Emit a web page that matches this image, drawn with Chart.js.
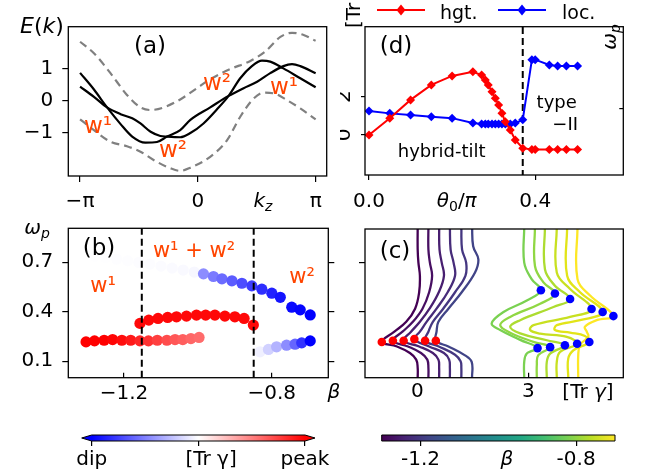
<!DOCTYPE html>
<html>
<head>
<meta charset="utf-8">
<script src="https://cdn.jsdelivr.net/npm/chart.js@4/dist/chart.umd.min.js"></script>
<style>
  body { margin: 0; background: #fff; }
  #wrap { position: relative; width: 651px; height: 475px; overflow: hidden; background: #fff; }
  canvas { position: absolute; }
</style>
</head>
<body>
<div id="wrap">
  <canvas id="cA" width="340" height="215" style="left:0px;top:0px;width:340px;height:215px"></canvas>
  <canvas id="cD" width="311" height="215" style="left:340px;top:0px;width:311px;height:215px"></canvas>
  <canvas id="cB" width="340" height="210" style="left:0px;top:200px;width:340px;height:210px"></canvas>
  <canvas id="cC" width="311" height="210" style="left:340px;top:200px;width:311px;height:210px"></canvas>
  <canvas id="cE" width="280" height="60" style="left:60px;top:415px;width:280px;height:60px"></canvas>
  <canvas id="cF" width="291" height="60" style="left:360px;top:415px;width:291px;height:60px"></canvas>
</div>
<script>
// ---------- data: panel (a), bands E(k) ----------
const aTickK = [-Math.PI, 0, Math.PI];
const aTickKLabels = ['−π', '0', 'π'];
const aTickE = [-1, 0, 1];
const aTickELabels = ['−1', '0', '1'];

const band1K = [-3.14, -2.77, -2.42, -2.06, -1.75, -1.40, -1.09, -0.82, -0.47, -0.20, 0.33, 0.82, 1.22, 1.58, 1.93, 2.28, 2.51, 2.73, 3.14];
const band1E = [0.88, 0.36, -0.20, -0.72, -1.11, -1.30, -1.28, -1.11, -0.91, -0.59, -0.20, 0.16, 0.40, 0.60, 0.87, 1.09, 1.15, 1.09, 0.87];
const band2K = [-3.14, -2.77, -2.42, -2.06, -1.75, -1.53, -1.26, -1.00, -0.82, -0.47, -0.20, 0.15, 0.51, 0.82, 1.13, 1.44, 1.71, 1.93, 2.28, 2.73, 3.14];
const band2E = [0.45, 0.13, -0.20, -0.41, -0.54, -0.70, -0.96, -1.09, -1.11, -1.13, -1.00, -0.70, -0.26, 0.16, 0.71, 1.09, 1.26, 1.23, 1.02, 0.71, 0.43];
const upperK = [-3.14, -2.77, -2.33, -1.89, -1.53, -1.26, -0.91, -0.47, 0.00, 0.33, 0.87, 1.40, 1.80, 2.20, 2.51, 2.82, 3.14];
const upperE = [1.85, 1.49, 0.87, 0.19, -0.20, -0.28, -0.20, 0.05, 0.42, 0.68, 1.00, 1.25, 1.55, 2.00, 2.13, 2.06, 1.88];
const lowerK = [-3.14, -2.77, -2.33, -1.89, -1.53, -1.18, -0.73, -0.47, -0.20, 0.33, 0.78, 1.13, 1.49, 1.75, 2.02, 2.37, 2.73, 3.14];
const lowerE = [-0.57, -0.91, -1.27, -1.41, -1.58, -1.84, -2.10, -2.18, -2.08, -1.74, -1.22, -0.49, 0.08, 0.26, 0.24, 0.03, -0.23, -0.57];

// ---------- data: panel (b), omega_p vs beta ----------
const bTickBeta = [-1.2, -0.8];
const bTickBetaLabels = ['−1.2', '−0.8'];
const wTicks = [0.1, 0.4, 0.7];
const wTickLabels = ['0.1', '0.4', '0.7'];
const bSplit = [-1.152, -0.849];

const lowRedBeta = [-1.303, -1.280, -1.254, -1.231, -1.206, -1.182, -1.157, -1.134, -1.110, -1.084, -1.062, -1.041, -1.019, -0.997];
const lowRedW = [0.217, 0.223, 0.227, 0.231, 0.227, 0.227, 0.223, 0.223, 0.227, 0.227, 0.231, 0.231, 0.237, 0.244];
const lowRedTr = [1.0, 1.0, 1.0, 0.98, 0.95, 0.9, 0.85, 0.8, 0.75, 0.7, 0.66, 0.63, 0.6, 0.58];
const upRedBeta = [-1.157, -1.133, -1.108, -1.082, -1.058, -1.031, -1.004, -0.979, -0.954, -0.927, -0.900, -0.875, -0.850];
const upRedW = [0.329, 0.349, 0.359, 0.365, 0.369, 0.373, 0.379, 0.379, 0.379, 0.373, 0.369, 0.359, 0.319];
const upRedTr = [0.97, 0.97, 0.97, 0.97, 0.97, 0.97, 0.97, 0.97, 0.97, 0.97, 0.97, 0.97, 0.97];
const faintBeta = [-1.28, -1.25, -1.22, -1.19, -1.16, -1.13, -1.10, -1.07, -1.04, -1.01];
const faintW = [0.735, 0.727, 0.718, 0.708, 0.698, 0.688, 0.676, 0.664, 0.652, 0.640];
const faintTr = [-0.005, -0.005, -0.008, -0.008, -0.01, -0.012, -0.015, -0.018, -0.022, -0.03];
const upBlueBeta = [-0.985, -0.958, -0.935, -0.908, -0.881, -0.854, -0.827, -0.800, -0.777, -0.746, -0.723, -0.696];
const upBlueW = [0.629, 0.613, 0.599, 0.587, 0.572, 0.556, 0.536, 0.512, 0.487, 0.427, 0.411, 0.380];
const upBlueTr = [-0.45, -0.52, -0.58, -0.64, -0.7, -0.76, -0.82, -0.87, -0.92, -0.96, -0.98, -1.0];
const lowBlueBeta = [-0.832, -0.809, -0.787, -0.760, -0.737, -0.719, -0.696];
const lowBlueW = [0.157, 0.171, 0.187, 0.197, 0.203, 0.211, 0.223];
const lowBlueTr = [-0.06, -0.18, -0.3, -0.45, -0.6, -0.8, -1.0];

// ---------- data: panel (c), [Tr gamma] curves, pairs [omega, Tr] ----------
const cTickTr = [0, 3];
const cTickTrLabels = ['0', '3'];
const purple1 = [[0.92, 0.01], [0.78, 0.01], [0.70, 0.03], [0.62, 0.07], [0.52, 0.05], [0.42, -0.06], [0.34, -0.30], [0.28, -0.62], [0.217, -0.96], [0.19, -0.55], [0.15, -0.20], [0.11, -0.03], [0.06, 0.01], [0.0, 0.01]];
const purple2 = [[0.92, 0.30], [0.78, 0.30], [0.70, 0.34], [0.62, 0.40], [0.52, 0.32], [0.42, 0.14], [0.34, -0.12], [0.28, -0.40], [0.225, -0.66], [0.19, -0.25], [0.15, 0.10], [0.11, 0.27], [0.06, 0.30], [0.0, 0.30]];
const purple3 = [[0.92, 0.59], [0.78, 0.60], [0.70, 0.66], [0.62, 0.72], [0.52, 0.58], [0.42, 0.33], [0.34, 0.07], [0.28, -0.17], [0.225, -0.37], [0.19, 0.05], [0.15, 0.42], [0.11, 0.57], [0.06, 0.59], [0.0, 0.59]];
const purple4 = [[0.92, 0.88], [0.78, 0.90], [0.70, 0.98], [0.62, 1.02], [0.52, 0.82], [0.42, 0.52], [0.34, 0.25], [0.28, 0.07], [0.235, -0.08], [0.19, 0.32], [0.15, 0.72], [0.11, 0.86], [0.06, 0.88], [0.0, 0.88]];
const purple5 = [[0.92, 1.19], [0.78, 1.21], [0.70, 1.32], [0.62, 1.30], [0.52, 1.02], [0.42, 0.70], [0.34, 0.42], [0.28, 0.30], [0.225, 0.21], [0.19, 0.58], [0.14, 1.02], [0.10, 1.17], [0.06, 1.19], [0.0, 1.19]];
const purple6 = [[0.92, 1.48], [0.80, 1.51], [0.72, 1.65], [0.64, 1.56], [0.52, 1.20], [0.42, 0.84], [0.34, 0.57], [0.28, 0.52], [0.225, 0.50], [0.19, 0.84], [0.136, 1.29], [0.096, 1.47], [0.0, 1.48]];
const green1 = [[0.92, 2.89], [0.70, 2.89], [0.60, 3.09], [0.532, 3.34], [0.47, 2.96], [0.40, 2.33], [0.33, 2.01], [0.29, 2.24], [0.23, 2.78], [0.180, 3.25], [0.147, 2.96], [0.096, 2.89], [0.0, 2.89]];
const green2 = [[0.92, 3.18], [0.68, 3.18], [0.58, 3.41], [0.512, 3.72], [0.45, 3.32], [0.37, 2.51], [0.32, 2.24], [0.274, 2.51], [0.218, 3.14], [0.186, 3.59], [0.137, 3.27], [0.076, 3.23], [0.0, 3.23]];
const green3 = [[0.92, 3.45], [0.66, 3.45], [0.56, 3.72], [0.479, 4.13], [0.43, 3.68], [0.35, 2.78], [0.31, 2.51], [0.27, 2.78], [0.228, 3.50], [0.197, 3.99], [0.147, 3.59], [0.096, 3.50], [0.0, 3.50]];
const green4 = [[0.92, 3.77], [0.64, 3.77], [0.54, 4.13], [0.418, 4.71], [0.37, 4.13], [0.32, 3.14], [0.29, 3.05], [0.268, 3.32], [0.248, 4.04], [0.207, 4.32], [0.157, 3.86], [0.096, 3.77], [0.0, 3.77]];
const green5 = [[0.92, 4.05], [0.62, 4.05], [0.52, 4.40], [0.400, 5.01], [0.35, 4.40], [0.32, 3.77], [0.29, 3.72], [0.274, 4.13], [0.254, 4.53], [0.217, 4.65], [0.167, 4.22], [0.116, 4.08], [0.0, 4.08]];
const green6 = [[0.92, 4.33], [0.60, 4.33], [0.50, 4.67], [0.375, 5.30], [0.35, 4.85], [0.31, 4.53], [0.28, 4.58], [0.25, 4.62], [0.20, 4.40], [0.137, 4.35], [0.0, 4.35]];
const peakTr = [-0.96, -0.66, -0.37, -0.08, 0.21, 0.50];
const peakW = [0.217, 0.225, 0.225, 0.235, 0.225, 0.225];
const dipUpTr = [3.34, 3.72, 4.13, 4.71, 5.01, 5.30];
const dipUpW = [0.532, 0.512, 0.479, 0.418, 0.400, 0.375];
const dipLowTr = [3.25, 3.59, 3.99, 4.32, 4.65];
const dipLowW = [0.180, 0.186, 0.197, 0.207, 0.217];

// ---------- data: panel (d), vs theta0/pi ----------
const dTickTheta = [0.0, 0.4];
const dTickThetaLabels = ['0.0', '0.4'];
const dTickTr = [0, 2];
const dTickTrLabels = ['0', '2'];
const dTickW = [0.4];
const dTickWLabels = ['0.4'];
const dTypeII = 0.37;
const theta = [0, 0.05, 0.1, 0.15, 0.2, 0.25, 0.271, 0.28, 0.287, 0.296, 0.304, 0.312, 0.32, 0.328, 0.34, 0.352, 0.37, 0.392, 0.40, 0.434, 0.454, 0.475, 0.502];
const hgt = [0, 0.87, 1.83, 2.61, 3.08, 3.30, 3.13, 2.87, 2.61, 2.26, 1.91, 1.56, 1.13, 0.69, 0.26, -0.26, -0.69, -0.76, -0.76, -0.76, -0.76, -0.76, -0.76];
const loc = [0.388, 0.374, 0.364, 0.354, 0.345, 0.315, 0.31, 0.31, 0.31, 0.31, 0.31, 0.31, 0.31, 0.31, 0.31, 0.315, 0.335, 0.70, 0.70, 0.668, 0.662, 0.662, 0.662];

// ---------- colorbars ----------
const cbLeftTicks = [0, 0.5, 1];
const cbLeftLabels = ['dip', '    [Tr γ]', 'peak'];
const cbRightTicks = [-1.2, -0.8];
const cbRightLabels = ['-1.2', '-0.8'];

// ---------- helpers ----------
Chart.defaults.font.family = '"DejaVu Sans"';
Chart.defaults.color = '#000';

const FONT = '"DejaVu Sans"';
const ORANGE = '#ff4500';
const purples = ['#440154', '#470f62', '#481f70', '#472c7a', '#453781', '#414487'];
const greens = ['#7ad151', '#90d743', '#addc30', '#c8e020', '#e2e418', '#fde725'];
const viridis = ['#440154', '#482475', '#414487', '#355f8d', '#2a788e', '#21918c', '#22a884', '#44bf70', '#7ad151', '#bddf26', '#fde725'];

function bwr(v) {
  if (v < 0) {
    const c = Math.round(255 * (1 + v));
    return 'rgb(' + c + ',' + c + ',255)';
  }
  const c = Math.round(255 * (1 - v));
  return 'rgb(255,' + c + ',' + c + ')';
}
function zipXY(xs, ys) { return xs.map((x, i) => ({x: x, y: ys[i]})); }
function curve(pairs) { return pairs.map(p => ({x: p[1], y: p[0]})); }

function ticksAt(vals) { return s => { s.ticks = vals.map(v => ({value: v})); }; }

function axis(o) {
  // o: pos, min, max, vals, labels, size, tl, pad, rot, cross
  const horiz = o.pos === 'bottom';
  return {
    type: 'linear', position: o.pos, min: o.min, max: o.max,
    afterBuildTicks: ticksAt(o.vals),
    afterFit: s => { if (horiz) s.height = o.size; else s.width = o.size; },
    grid: {drawOnChartArea: false, drawTicks: true, tickLength: o.tl, color: '#000', lineWidth: 1.2},
    border: {display: false},
    ticks: {
      display: !!o.labels, padding: o.pad, autoSkip: false,
      minRotation: o.rot || 0, maxRotation: o.rot || 0,
      crossAlign: o.cross || 'near',
      font: {size: o.fs || 20, lineHeight: 1.2}, color: '#000',
      callback: (v, i) => o.labels ? o.labels[i] : ''
    }
  };
}

// notes in page coordinates, [text, style]: style 'i' italic, 's' subscript
const notes = {
  cA: [
    {x: 42, y: 33, size: 22, parts: [['E', 'i'], ['('], ['k', 'i'], [')']]},
    {x: 150, y: 53, size: 23, parts: [['(a)']]},
    {x: 217, y: 90, size: 23, color: ORANGE, parts: [['w²']]},
    {x: 284, y: 94, size: 23, color: ORANGE, parts: [['w¹']]},
    {x: 98, y: 132.7, size: 23, color: ORANGE, parts: [['w¹']]},
    {x: 173, y: 156.7, size: 23, color: ORANGE, parts: [['w²']]},
    {x: 263, y: 207, size: 20, parts: [['k', 'i'], ['z', 'is']]}
  ],
  cB: [
    {x: 37, y: 234, size: 20, parts: [['ω', 'i'], ['p', 'is']]},
    {x: 99, y: 255, size: 23, parts: [['(b)']]},
    {x: 194, y: 256.7, size: 21, color: ORANGE, parts: [['w¹ + w²']]},
    {x: 103, y: 291.7, size: 21, color: ORANGE, parts: [['w¹']]},
    {x: 302, y: 283.3, size: 21, color: ORANGE, parts: [['w²']]},
    {x: 334, y: 398, size: 20, parts: [['β', 'i']]}
  ],
  cC: [
    {x: 395, y: 258.3, size: 23, parts: [['(c)']]},
    {x: 588, y: 398, size: 20, parts: [['[Tr '], ['γ', 'i'], [']']]}
  ],
  cD: [
    {x: 396, y: 53.3, size: 23, parts: [['(d)']]},
    {x: 441.7, y: 156.7, size: 18, parts: [['hybrid-tilt']]},
    {x: 556.7, y: 108.3, size: 18, parts: [['type']]},
    {x: 578, y: 130, size: 18, align: 'right', parts: [['−II']]},
    {x: 616, y: 37, size: 20, rot: -Math.PI / 2, parts: [['ω', 'i'], ['p', 'is']]},
    {x: 360, y: 28, size: 20, rot: -Math.PI / 2, align: 'left', parts: [['[Tr '], ['γ', 'i'], [']']]},
    {x: 456.7, y: 207, size: 20, parts: [['θ', 'i'], ['0', 's'], ['/'], ['π', 'i']]}
  ],
  cF: [
    {x: 507, y: 465, size: 20, parts: [['β', 'i']]}
  ]
};

function drawNote(ctx, n, ox, oy) {
  const sz = n.size || 20;
  const segs = n.parts.map(p => {
    const st = p[1] || '';
    const it = st.indexOf('i') >= 0;
    const sub = st.indexOf('s') >= 0;
    const fs = sub ? sz * 0.7 : sz;
    return {t: p[0], font: (it ? 'italic ' : '') + fs + 'px ' + FONT, dy: sub ? sz * 0.22 : 0};
  });
  ctx.save();
  let w = 0;
  segs.forEach(s => { ctx.font = s.font; s.w = ctx.measureText(s.t).width; w += s.w; });
  ctx.translate(n.x - ox, n.y - oy);
  if (n.rot) ctx.rotate(n.rot);
  let x0 = n.align === 'left' ? 0 : (n.align === 'right' ? -w : -w / 2);
  ctx.fillStyle = n.color || '#000';
  ctx.textBaseline = 'alphabetic';
  ctx.textAlign = 'left';
  segs.forEach(s => { ctx.font = s.font; ctx.fillText(s.t, x0, s.dy); x0 += s.w; });
  ctx.restore();
}

const framePlugin = {
  id: 'frame',
  afterDraw(chart) {
    const id = chart.canvas.id;
    const ox = chart.canvas.offsetLeft, oy = chart.canvas.offsetTop;
    const ctx = chart.ctx;
    if (id !== 'cE' && id !== 'cF') {
      const a = chart.chartArea;
      ctx.save();
      ctx.strokeStyle = '#000';
      ctx.lineWidth = 1.3;
      ctx.strokeRect(a.left, a.top, a.right - a.left, a.bottom - a.top);
      ctx.restore();
    }
    (notes[id] || []).forEach(n => drawNote(ctx, n, ox, oy));
  }
};

// legend for (d): line + diamond marker, like matplotlib
const legendSpots = [{x1: 377, x2: 425, y: 10, tx: 440, ty: 18.5}, {x1: 498, x2: 546, y: 10, tx: 562, ty: 18.5}];
const legendPlugin = {
  id: 'mplLegend',
  afterDraw(chart) {
    if (chart.canvas.id !== 'cD') return;
    const ctx = chart.ctx, ox = chart.canvas.offsetLeft;
    [0, 1].forEach(i => {
      const ds = chart.data.datasets[i], sp = legendSpots[i];
      ctx.save();
      ctx.strokeStyle = ds.borderColor; ctx.fillStyle = ds.borderColor; ctx.lineWidth = 2;
      ctx.beginPath(); ctx.moveTo(sp.x1 - ox, sp.y); ctx.lineTo(sp.x2 - ox, sp.y); ctx.stroke();
      const cx = (sp.x1 + sp.x2) / 2 - ox;
      ctx.beginPath(); ctx.moveTo(cx, sp.y - 5.5); ctx.lineTo(cx + 4.5, sp.y); ctx.lineTo(cx, sp.y + 5.5); ctx.lineTo(cx - 4.5, sp.y); ctx.closePath(); ctx.fill();
      ctx.fillStyle = '#000'; ctx.font = '19px ' + FONT; ctx.textBaseline = 'alphabetic';
      ctx.fillText(ds.label, sp.tx - ox, sp.ty);
      ctx.restore();
    });
  }
};

// colorbar bodies
const cbars = {
  cE: {stops: ['#0000ff', '#ffffff', '#ff0000'], extend: 10},
  cF: {stops: viridis, extend: 0}
};
const cbarPlugin = {
  id: 'cbar',
  beforeDraw(chart) {
    const spec = cbars[chart.canvas.id];
    if (!spec) return;
    const ctx = chart.ctx, a = chart.chartArea;
    const g = ctx.createLinearGradient(a.left, 0, a.right, 0);
    spec.stops.forEach((c, i) => g.addColorStop(i / (spec.stops.length - 1), c));
    const midY = (a.top + a.bottom) / 2, e = spec.extend;
    ctx.save();
    ctx.beginPath();
    ctx.moveTo(a.left, a.top);
    ctx.lineTo(a.right, a.top);
    if (e) ctx.lineTo(a.right + e, midY);
    ctx.lineTo(a.right, a.bottom);
    ctx.lineTo(a.left, a.bottom);
    if (e) ctx.lineTo(a.left - e, midY);
    ctx.closePath();
    ctx.fillStyle = g; ctx.fill();
    ctx.strokeStyle = '#000'; ctx.lineWidth = 1; ctx.stroke();
    ctx.restore();
  }
};

const basic = {
  responsive: false, animation: false, devicePixelRatio: 1, events: [],
  plugins: {legend: {display: false}, tooltip: {enabled: false}}
};
function opts(extra) { return Object.assign({}, basic, extra); }
const plugins = [framePlugin, legendPlugin, cbarPlugin];

function lineDs(xs, ys, color, width, dash) {
  return {data: zipXY(xs, ys), showLine: true, borderColor: color, borderWidth: width, borderDash: dash || [],
          pointRadius: 0, cubicInterpolationMode: 'monotone', fill: false};
}
function dotsDs(xs, ys, colors, r) {
  return {data: zipXY(xs, ys), showLine: false, pointRadius: r, pointBackgroundColor: colors, pointBorderWidth: 0, borderWidth: 0};
}
function vline(x, y0, y1, axisId) {
  const d = {data: [{x: x, y: y0}, {x: x, y: y1}], showLine: true, borderColor: '#000', borderWidth: 2,
             borderDash: [7, 4], pointRadius: 0};
  if (axisId) d.yAxisID = axisId;
  return d;
}

// ---------- (a) ----------
new Chart(document.getElementById('cA'), {
  type: 'scatter',
  data: {datasets: [
    lineDs(band1K, band1E, '#000', 2.2),
    lineDs(band2K, band2E, '#000', 2.2),
    lineDs(upperK, upperE, '#808080', 2.2, [8, 5]),
    lineDs(lowerK, lowerE, '#808080', 2.2, [8, 5])
  ]},
  options: opts({
    layout: {padding: {left: 0, top: 26.7, right: 13.3, bottom: 0}},
    scales: {
      x: axis({pos: 'bottom', min: -3.454, max: 3.435, vals: aTickK, labels: aTickKLabels, size: 39, tl: 6, pad: 8}),
      y: axis({pos: 'left', min: -2.34, max: 2.32, vals: aTickE, labels: aTickELabels, size: 68.3, tl: 6, pad: 9})
    }
  }),
  plugins: plugins
});

// ---------- (b) ----------
new Chart(document.getElementById('cB'), {
  type: 'scatter',
  data: {datasets: [
    vline(bSplit[0], 0, 0.91),
    vline(bSplit[1], 0, 0.91),
    dotsDs(lowBlueBeta, lowBlueW, lowBlueTr.map(bwr), 5.6),
    dotsDs(upBlueBeta, upBlueW, upBlueTr.map(bwr), 5.6),
    dotsDs(upRedBeta, upRedW, upRedTr.map(bwr), 5.6),
    dotsDs(lowRedBeta, lowRedW, lowRedTr.map(bwr), 5.6),
    dotsDs(faintBeta, faintW, faintTr.map(bwr), 5.6)
  ]},
  options: opts({
    layout: {padding: {left: 0, top: 28.3, right: 4.7, bottom: 0}},
    scales: {
      x: axis({pos: 'bottom', min: -1.351, max: -0.647, vals: bTickBeta, labels: bTickBetaLabels, size: 32.3, tl: -5, pad: 8.6}),
      y: axis({pos: 'left', min: 0, max: 0.905, vals: wTicks, labels: wTickLabels, size: 68.3, tl: 6, pad: 9}),
      y2: axis({pos: 'right', min: 0, max: 0.905, vals: wTicks, labels: null, size: 7, tl: 6, pad: 0})
    }
  }),
  plugins: plugins
});

// ---------- (c) ----------
const cCurves = [purple1, purple2, purple3, purple4, purple5, purple6].map((c, i) =>
  ({data: curve(c), showLine: true, borderColor: purples[i], borderWidth: 2.3, pointRadius: 0, tension: 0.4}))
  .concat([green1, green2, green3, green4, green5, green6].map((c, i) =>
  ({data: curve(c), showLine: true, borderColor: greens[i], borderWidth: 2.3, pointRadius: 0, tension: 0.4})));
new Chart(document.getElementById('cC'), {
  type: 'scatter',
  data: {datasets: [
    dotsDs(peakTr, peakW, '#ff0000', 4.3),
    dotsDs(dipUpTr, dipUpW, '#0000ff', 4.3),
    dotsDs(dipLowTr, dipLowW, '#0000ff', 4.3)
  ].concat(cCurves)},
  options: opts({
    layout: {padding: {left: 0, top: 29, right: 27.7, bottom: 0}},
    scales: {
      x: axis({pos: 'bottom', min: -1.414, max: 5.568, vals: cTickTr, labels: cTickTrLabels, size: 32.3, tl: -5, pad: 7}),
      y: axis({pos: 'left', min: 0, max: 0.905, vals: wTicks, labels: null, size: 25, tl: 6, pad: 0})
    }
  }),
  plugins: plugins
});

// ---------- (d) ----------
new Chart(document.getElementById('cD'), {
  type: 'scatter',
  data: {datasets: [
    {label: 'hgt.', data: zipXY(theta, hgt), yAxisID: 'yL', showLine: true, borderColor: '#ff0000', backgroundColor: '#ff0000',
     borderWidth: 2, pointStyle: 'rectRot', pointRadius: 4.5, pointBorderWidth: 0},
    {label: 'loc.', data: zipXY(theta, loc), yAxisID: 'yR', showLine: true, borderColor: '#0000ff', backgroundColor: '#0000ff',
     borderWidth: 2, pointStyle: 'rectRot', pointRadius: 4.5, pointBorderWidth: 0},
    vline(dTypeII, -2.2, 5.8, 'yL')
  ]},
  options: opts({
    layout: {padding: {left: 0, top: 26.7, right: 26.7, bottom: 0}},
    scales: {
      x: axis({pos: 'bottom', min: -0.0096, max: 0.612, vals: dTickTheta, labels: dTickThetaLabels, size: 40, tl: 5, pad: 9.7}),
      yL: axis({pos: 'left', min: -2.09, max: 5.65, vals: dTickTr, labels: dTickTrLabels, size: 25, tl: 4, pad: 10, rot: 90, cross: 'center'}),
      yR: axis({pos: 'right', min: 0, max: 0.9, vals: dTickW, labels: dTickWLabels, size: 1, tl: -4, pad: -25.2, rot: 90, cross: 'center'})
    }
  }),
  plugins: plugins
});

// ---------- colorbars ----------
new Chart(document.getElementById('cE'), {
  type: 'scatter',
  data: {datasets: []},
  options: opts({
    layout: {padding: {left: 31.7, top: 20, right: 35, bottom: 0}},
    scales: {
      x: axis({pos: 'bottom', min: 0, max: 1, vals: cbLeftTicks, labels: cbLeftLabels, size: 34, tl: 5, pad: 2, fs: 20}),
      y: {display: false}
    }
  }),
  plugins: plugins
});
new Chart(document.getElementById('cF'), {
  type: 'scatter',
  data: {datasets: []},
  options: opts({
    layout: {padding: {left: 21.7, top: 20, right: 36, bottom: 0}},
    scales: {
      x: axis({pos: 'bottom', min: -1.3, max: -0.7, vals: cbRightTicks, labels: cbRightLabels, size: 34, tl: 5, pad: 2, fs: 20}),
      y: {display: false}
    }
  }),
  plugins: plugins
});
</script>
</body>
</html>
